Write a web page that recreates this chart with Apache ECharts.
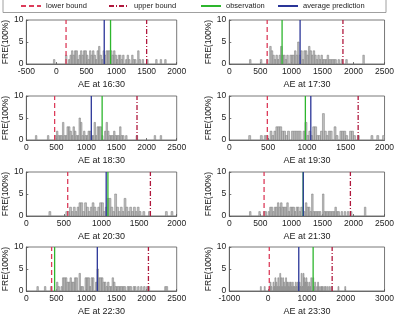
<!DOCTYPE html>
<html>
<head>
<meta charset="utf-8">
<script src="https://cdn.jsdelivr.net/npm/echarts@6/dist/echarts.min.js"></script>
<style>
html,body{margin:0;padding:0;background:#fff}
#main{width:397px;height:319px}
</style>
</head>
<body>
<div id="main"></div>
<script>
// 每个子图的时刻
var times = ['16:30', '17:30', '18:30', '19:30', '20:30', '21:30', '22:30', '23:30'];
var xMin = [-500, 0, 0, 0, 0, 0, 0, -1000];
var xMax = [2000, 2500, 2500, 2000, 2000, 2500, 2500, 3000];
var xStep = [500, 500, 500, 500, 500, 500, 500, 1000];

// 竖线位置
var lowerBound = [160, 610, 470, 490, 550, 560, 420, 30];
var upperBound = [1500, 1830, 1840, 1660, 1650, 1950, 2030, 1650];
var observation = [900, 850, 1260, 980, 1085, 1189, 470, 1160];
var prediction = [795, 1140, 1080, 1050, 1062, 1191, 1180, 790];

// 直方图
var binWidth = 25;
var binStart = [-50, 300, 150, 250, 300, 325, 175, -200];
var counts = [
    [1,0,0,0,0,0,0,0,2,0, 1,2,3,2,3,3,1,2,3,2, 3,3,2,1,3,2,3,2,1,3, 4,2,1,3,2,3,3,3,3,2,
     3,2,1,2,2,1,2,0,1,2, 1,0,2,1,1,0,3,1,0,1, 0,0,1,0,0,0,0,0,1,0, 0,1,0,0,1],
    [0,1,0,0,0,0,0,0,1,0, 0,0,1,0,4,3,2,1,2,1, 2,4,2,2,1,2,0,2,2,2, 3,2,5,2,3,1,3,3,2,4,
     3,2,3,2,1,2,1,2,1,1, 1,2,1,1,1,1,1,0,1,0, 1,0,0,1,0,0,0,0,0,0, 0,0,0,0,2],
    [1,0,0,0,0,0,0,0,1,0, 0,0,0,1,2,1,1,1,4,1, 1,3,3,2,1,3,2,1,1,5, 4,1,2,1,1,2,2,1,1,4,
     1,3,3,3,1,0,2,4,2,1, 1,1,2,1,1,1,3,1,1,0, 1,0,0,0,0,0,0,1,0,0, 0,0,0,0,0,0,0,0,0,1,
     0,0,0,1],
    [1,0,0,0,0,0,1,0,1,1, 0,2,1,2,3,3,3,2,2,1, 2,0,2,2,2,2,2,0,2,4, 1,2,1,3,3,1,1,2,6,2,
     1,2,2,0,3,1,0,2,2,2, 1,0,2,2,1,0,1,0,0,0, 0,0,0,1,0,0,1,0,0,1],
    [1,0,0,0,0,0,0,0,0,1, 1,2,1,2,1,2,3,3,1,3, 2,1,2,3,2,1,2,3,3,1, 2,4,4,2,1,5,2,1,2,1,
     4,2,1,2,1,2,1,2,1,0, 1,0,0,1,0,0,0,0,0,0, 0,0,1,0,0,1],
    [1,0,0,0,0,0,1,0,0,1, 1,0,1,2,2,1,2,2,3,2, 3,2,2,2,3,1,2,2,2,1, 2,2,1,2,0,1,3,2,2,1,
     5,1,1,1,1,1,0,5,1,1, 1,1,1,1,1,2,1,1,0,1, 0,1,0,1,0,1,0,0,0,0, 0,0,0,0,2],
    [1,0,0,0,0,1,0,0,0,1, 0,0,0,2,1,0,1,3,3,3, 2,2,3,2,2,3,3,0,4,1, 1,0,3,3,3,1,3,3,0,2,
     5,3,3,3,2,2,1,2,1,1, 3,2,1,1,1,1,1,1,1,0, 1,1,1,0,1,1,0,1,0,1, 0,1,0,1,1,0,0,0,0,0,
     0,0,0,0,0,1,1],
    [1,0,0,0,1,0,0,0,0,1, 2,1,0,2,1,3,2,1,3,1, 4,3,1,3,2,1,3,2,2,1, 2,2,1,2,1,1,2,1,2,1,
     2,1,4,1,4,3,2,3,2,1, 2,1,3,0,3,1,2,0,1,2, 1,0,1,1,1,0,1,1,0,1, 0,1,0,1,0,0,0,0,0,0,
     1,0,0,0,0,0,0,1]
];

var lineDefs = [
    {name: 'lower bound', vals: lowerBound, color: '#dc3c5a', type: [5, 3]},
    {name: 'upper bound', vals: upperBound, color: '#b0173c', type: [5, 2, 1, 2]},
    {name: 'observation', vals: observation, color: '#2db62d', type: 'solid'},
    {name: 'average prediction', vals: prediction, color: '#2a3598', type: 'solid'}
];

var font = 'Liberation Sans, Arial, sans-serif';
var rowTop = [20, 96, 172, 247];
var axisColor = '#555';

var chart = echarts.init(document.getElementById('main'));

var grids = [], xAxes = [], yAxes = [], series = [];

function renderBar(params, api) {
    var x0 = api.value(0), h = api.value(1);
    var p0 = api.coord([x0, h]);
    var p1 = api.coord([x0 + binWidth, 0]);
    return {
        type: 'rect',
        shape: {x: p0[0], y: p0[1], width: p1[0] - p0[0], height: p1[1] - p0[1]},
        style: {fill: '#c2c2c2', stroke: '#767676', lineWidth: 0.5}
    };
}

function plain(v) { return String(v); }

for (var i = 0; i < times.length; i++) {
    var col = i % 2, row = Math.floor(i / 2);
    grids.push({
        left: col ? 229.3 : 21.7,
        top: rowTop[row],
        width: col ? 155.7 : 155,
        height: 44,
        show: true,
        borderColor: axisColor,
        borderWidth: 0.8,
        backgroundColor: '#fff'
    });
    xAxes.push({
        type: 'value', gridIndex: i,
        min: xMin[i], max: xMax[i], interval: xStep[i],
        name: 'AE at ' + times[i],
        nameLocation: 'middle', nameGap: 16,
        nameTextStyle: {fontSize: 9, color: '#222', fontFamily: font},
        axisLine: {show: true, onZero: false, lineStyle: {color: axisColor, width: 0.8}},
        axisTick: {show: true, inside: true, length: 2, lineStyle: {color: axisColor, width: 0.8}},
        axisLabel: {fontSize: 8.5, margin: 3, color: '#222', fontFamily: font, formatter: plain},
        splitLine: {show: false}
    });
    yAxes.push({
        type: 'value', gridIndex: i,
        min: 0, max: 10, interval: 5,
        name: 'FRE(100%)',
        nameLocation: 'middle', nameGap: 14, nameRotate: 90,
        nameTextStyle: {fontSize: 8.5, color: '#222', fontFamily: font},
        axisLine: {show: true, onZero: false, lineStyle: {color: axisColor, width: 0.8}},
        axisTick: {show: true, inside: true, length: 2, lineStyle: {color: axisColor, width: 0.8}},
        axisLabel: {fontSize: 8.5, margin: 3, color: '#222', fontFamily: font, formatter: plain},
        splitLine: {show: false}
    });

    var bars = [];
    for (var k = 0; k < counts[i].length; k++) {
        if (counts[i][k] > 0) bars.push([binStart[i] + k * binWidth, counts[i][k]]);
    }
    series.push({
        type: 'custom', name: 'hist' + i,
        xAxisIndex: i, yAxisIndex: i,
        renderItem: renderBar,
        encode: {x: 0, y: 1},
        data: bars,
        silent: true, z: 1
    });

    lineDefs.forEach(function (d, j) {
        series.push({
            type: 'line', name: d.name,
            xAxisIndex: i, yAxisIndex: i,
            data: [[d.vals[i], 0], [d.vals[i], 10]],
            symbol: 'none',
            lineStyle: {color: d.color, width: 1.3, type: d.type},
            itemStyle: {color: d.color},
            silent: true, z: 2 + j
        });
    });
}

var legendLeft = [20, 108, 200, 277];
var legends = lineDefs.map(function (d, j) {
    return {
        data: [d.name],
        left: legendLeft[j], top: 2,
        padding: 0,
        itemWidth: 20, itemHeight: 8,
        selectedMode: false,
        itemStyle: {opacity: 0},
        textStyle: {fontSize: 7.5, color: '#222', fontFamily: font}
    };
});

chart.setOption({
    animation: false,
    backgroundColor: '#fff',
    legend: legends,
    graphic: [{
        type: 'rect',
        shape: {x: 3, y: -1, width: 383, height: 13.5},
        style: {fill: 'none', stroke: '#888', lineWidth: 0.8},
        z: -1
    }],
    grid: grids,
    xAxis: xAxes,
    yAxis: yAxes,
    series: series
});
</script>
</body>
</html>
